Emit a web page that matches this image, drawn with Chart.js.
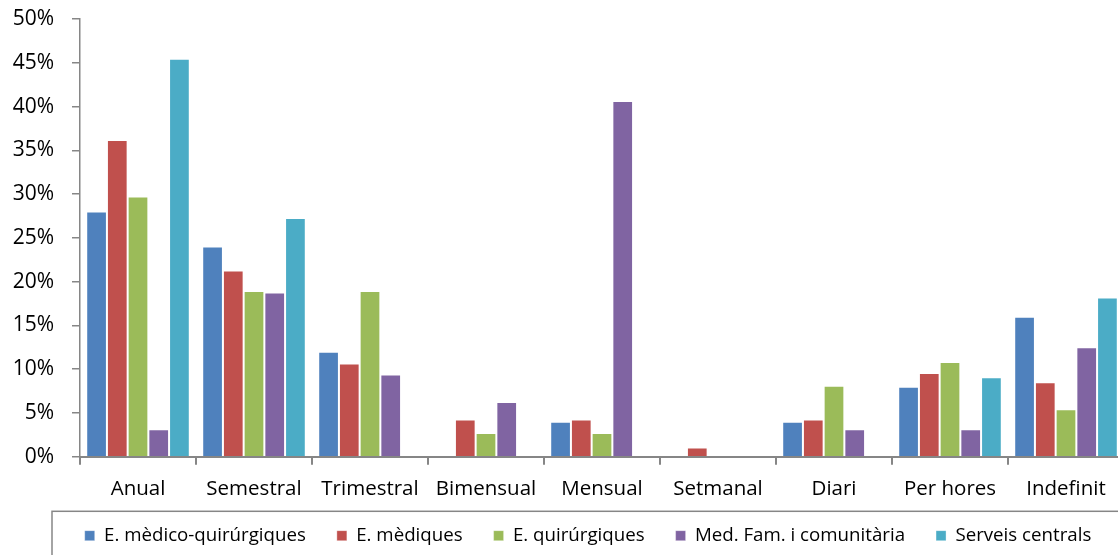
<!DOCTYPE html>
<html>
<head>
<meta charset="utf-8">
<script src="https://cdn.jsdelivr.net/npm/chart.js@4.4.1/dist/chart.umd.min.js"></script>
<style>
  html, body { margin: 0; padding: 0; background: #fff; overflow: hidden; }
  #wrap { position: relative; width: 1125px; height: 555px; }
</style>
</head>
<body>
<div id="wrap"><canvas id="freqChart"></canvas></div>
<script>
// Periodicity categories and share of answers (%) for each service group
const periods = ['Anual', 'Semestral', 'Trimestral', 'Bimensual', 'Mensual', 'Setmanal', 'Diari', 'Per hores', 'Indefinit'];
const medicoQuirurgiques = [28, 24, 12, 0, 4, 0, 4, 8, 16];
const mediques = [36.17, 21.28, 10.64, 4.26, 4.26, 1.06, 4.26, 9.57, 8.51];
const quirurgiques = [29.73, 18.92, 18.92, 2.70, 2.70, 0, 8.11, 10.81, 5.41];
const medFamComunitaria = [3.13, 18.75, 9.38, 6.25, 40.63, 0, 3.13, 3.13, 12.5];
const serveisCentrals = [45.45, 27.27, 0, 0, 0, 0, 0, 9.09, 18.18];
const yTicks = [0, 5, 10, 15, 20, 25, 30, 35, 40, 45, 50];

const axisGray = '#868686';
const font = 'Open Sans';

// Draws the frame round the legend and moves it in from the left edge
const legendFrame = {
    id: 'legendFrame',
    afterLayout(chart, args, opts) {
        chart.legend.left += opts.inset;
        chart.legend.width = chart.legend.right - chart.legend.left;
    },
    afterDraw(chart, args, opts) {
        const lg = chart.legend;
        const ctx = chart.ctx;
        ctx.save();
        ctx.strokeStyle = opts.color;
        ctx.lineWidth = 1.5;
        ctx.strokeRect(lg.left, lg.top + opts.offsetTop, lg.right - lg.left + 10, 100);
        ctx.restore();
    }
};

const makeSet = (label, data, color) => ({
    label: label,
    data: data,
    backgroundColor: color,
    borderColor: 'rgba(255,255,255,0.45)',
    borderWidth: {top: 1, left: 1, right: 1, bottom: 0},
    categoryPercentage: 5 / 5.6,
    barPercentage: 1.0
});

const ctx = document.getElementById('freqChart').getContext('2d');

new Chart(ctx, {
    type: 'bar',
    data: {
        labels: periods,
        datasets: [
            makeSet('E. mèdico-quirúrgiques', medicoQuirurgiques, '#4F81BD'),
            makeSet('E. mèdiques', mediques, '#C0504D'),
            makeSet('E. quirúrgiques', quirurgiques, '#9BBB59'),
            makeSet('Med. Fam. i comunitària', medFamComunitaria, '#8064A2'),
            makeSet('Serveis centrals', serveisCentrals, '#4BACC6'),
        ],
    },
    options: {
        responsive: true,
        maintainAspectRatio: false,
        animation: false,
        layout: {
            padding: {top: 19, left: 12, right: 1, bottom: 0}
        },
        scales: {
            x: {
                grid: {
                    drawOnChartArea: false,
                    drawTicks: true,
                    tickLength: 8,
                    color: axisGray,
                    lineWidth: 2
                },
                border: {color: axisGray, width: 2},
                ticks: {
                    color: '#000',
                    padding: 12,
                    maxRotation: 0,
                    font: {family: font, size: 20.5}
                },
                afterFit(scale) {
                    scale.height -= 18;
                }
            },
            y: {
                min: 0,
                max: 50,
                afterBuildTicks(scale) {
                    scale.ticks = yTicks.map(v => ({value: v}));
                },
                afterFit(scale) {
                    scale.width = 68;
                    scale.paddingTop = 0;
                    scale.paddingBottom = 0;
                },
                grid: {
                    drawOnChartArea: false,
                    drawTicks: true,
                    tickLength: 8,
                    color: axisGray,
                    lineWidth: 1.5
                },
                border: {color: axisGray, width: 1.5},
                ticks: {
                    color: '#000',
                    padding: 18,
                    font: {family: font, size: 21},
                    callback: v => v + '%'
                }
            }
        },
        plugins: {
            legend: {
                position: 'bottom',
                labels: {
                    color: '#000',
                    boxWidth: 10,
                    boxHeight: 10,
                    padding: 31,
                    font: {family: font, size: 18.7}
                }
            },
            tooltip: {enabled: false},
            legendFrame: {inset: 40, offsetTop: 16, color: axisGray}
        }
    },
    plugins: [legendFrame]
});
</script>
</body>
</html>
